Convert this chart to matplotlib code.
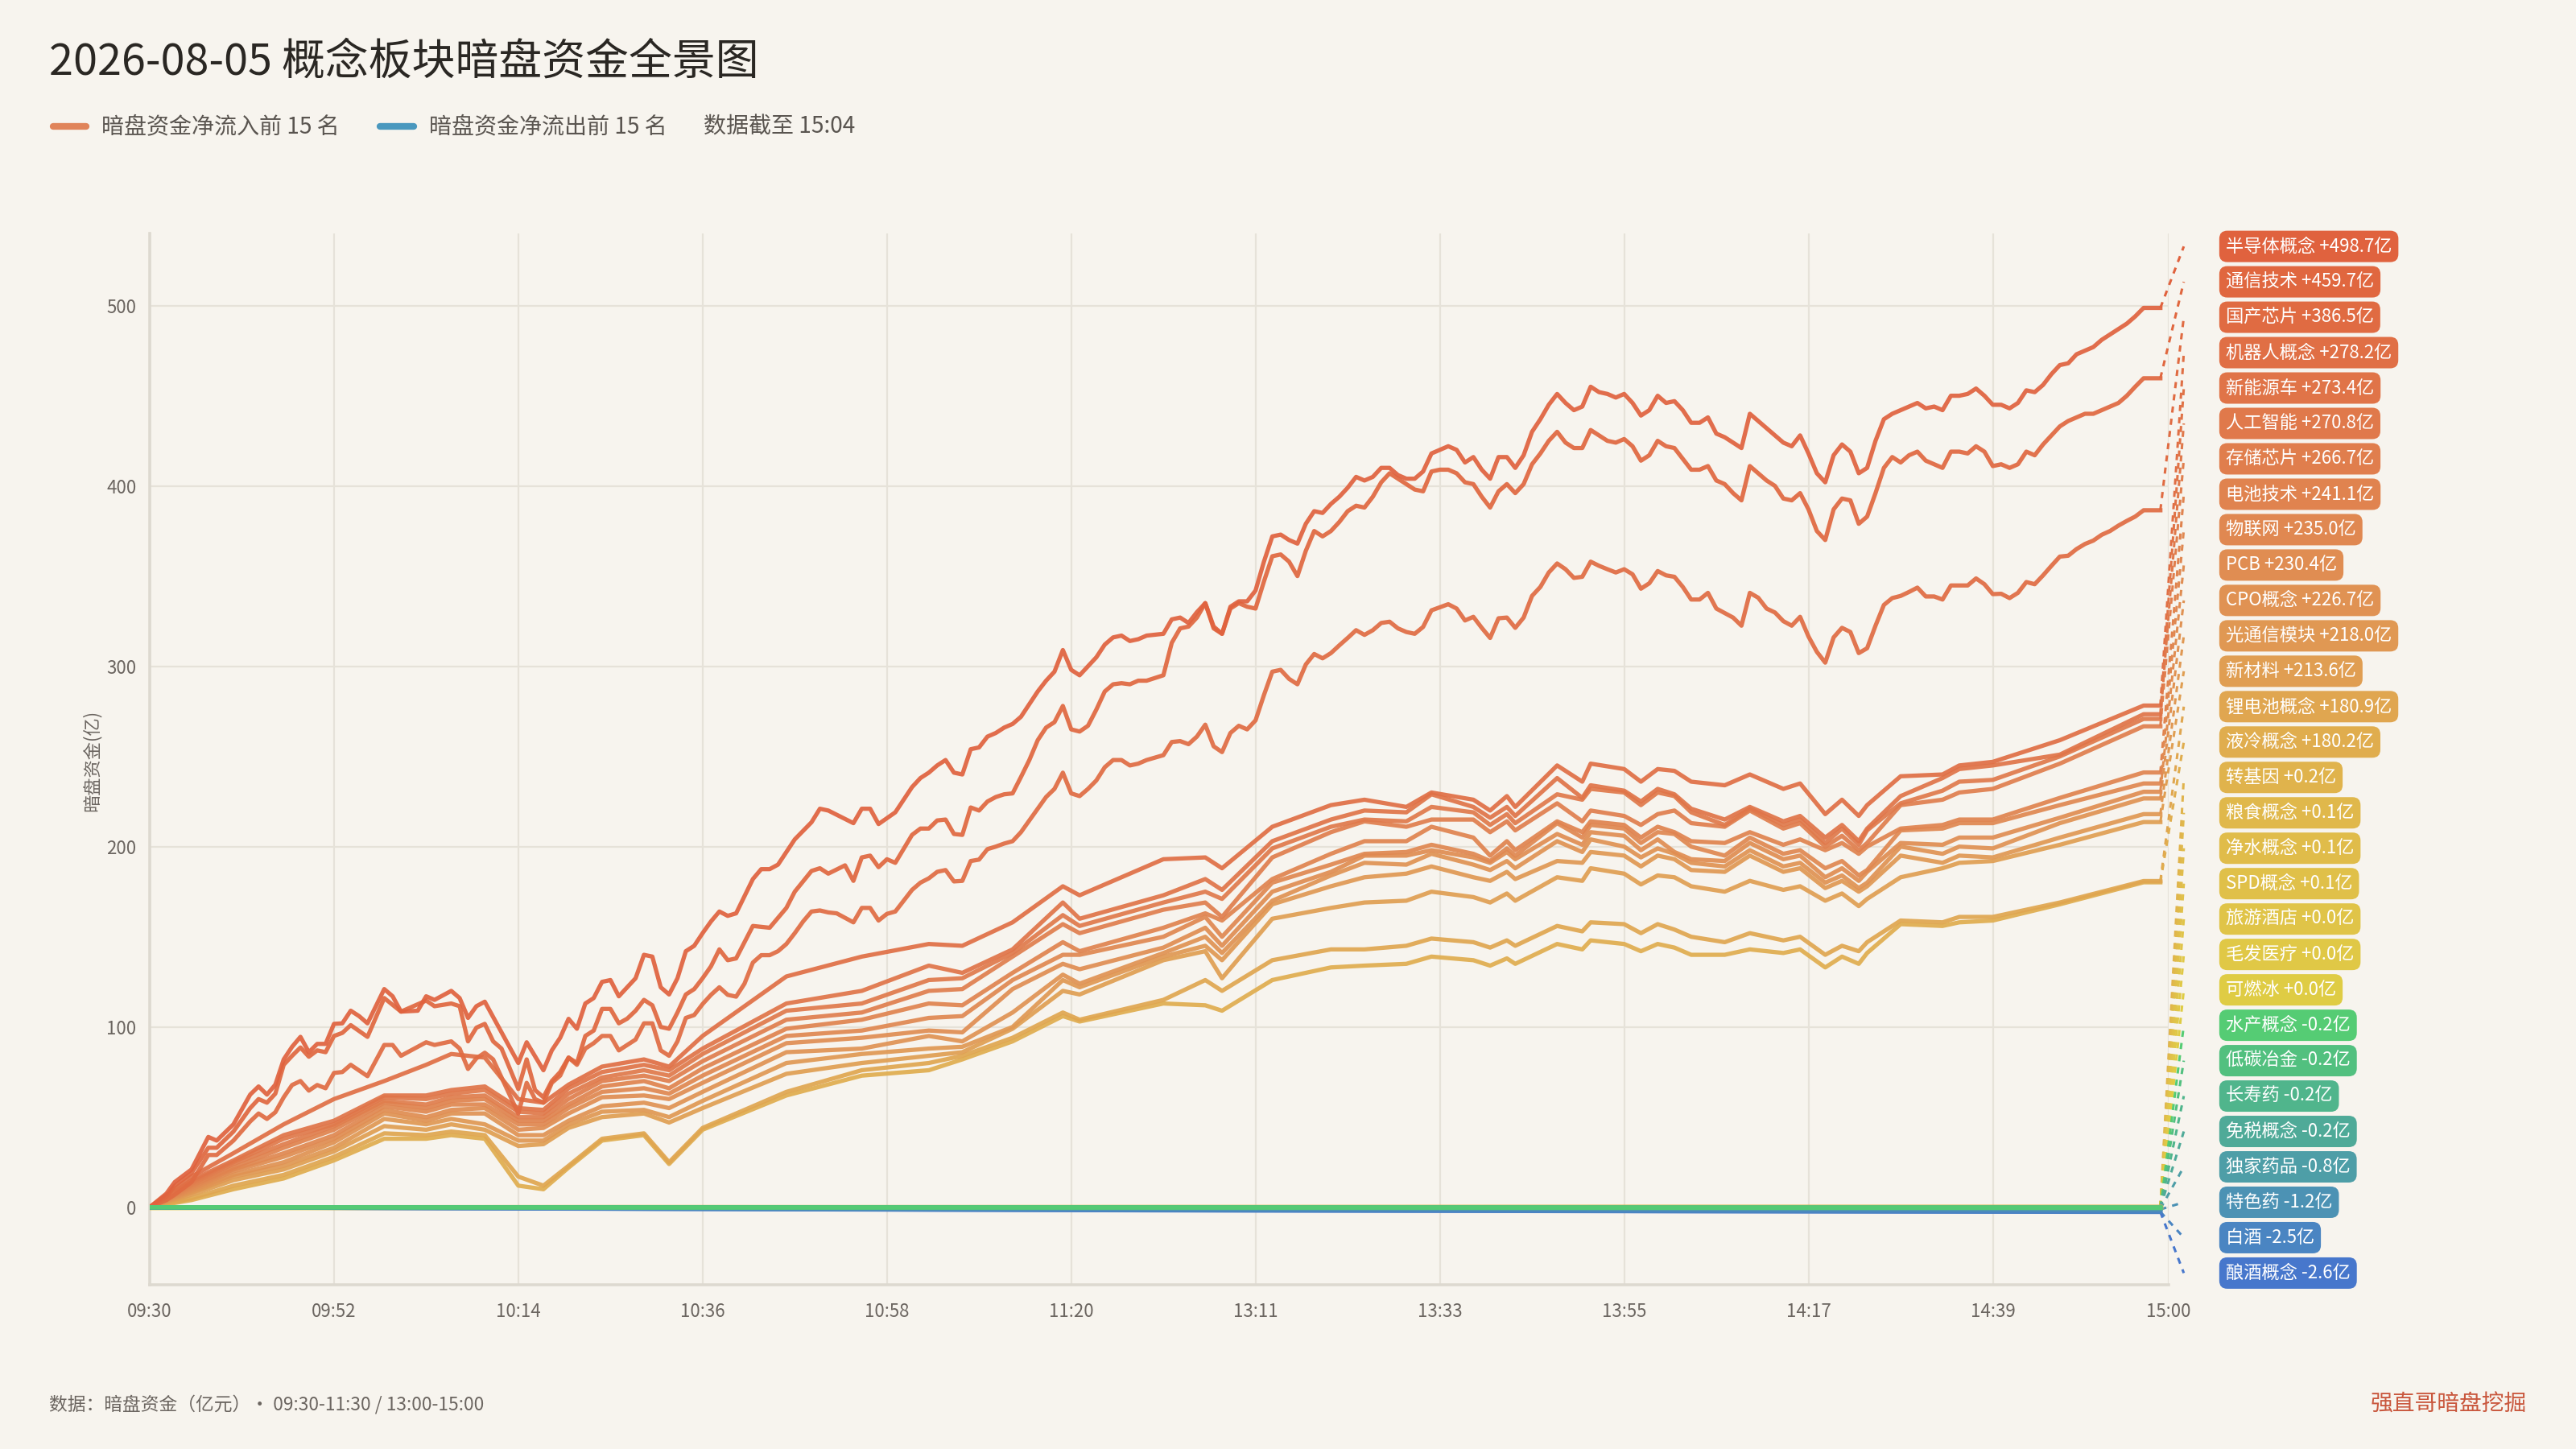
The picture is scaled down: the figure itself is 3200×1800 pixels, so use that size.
import matplotlib
matplotlib.use('Agg')
import matplotlib.pyplot as plt
from matplotlib.lines import Line2D

plt.rcParams['font.family'] = ['Noto Sans CJK SC', 'DejaVu Sans']

BG = '#F7F4EE'
GRID = '#E6E2D9'
TXT = '#6B6560'

# category axis: 09:30-11:30 then 13:00-15:00, one slot per minute
times = [f'{9 + (30 + m) // 60:02d}:{(30 + m) % 60:02d}' for m in range(121)] + \
        [f'{13 + m // 60:02d}:{m % 60:02d}' for m in range(121)]
tick_pos = [0, 22, 44, 66, 88, 110, 132, 154, 176, 198, 220, 241]

names = ['半导体概念', '通信技术', '国产芯片', '机器人概念', '新能源车', '人工智能', '存储芯片',
         '电池技术', '物联网', 'PCB', 'CPO概念', '光通信模块', '新材料', '锂电池概念', '液冷概念',
         '转基因', '粮食概念', '净水概念', 'SPD概念', '旅游酒店', '毛发医疗', '可燃冰',
         '水产概念', '低碳冶金', '长寿药', '免税概念', '独家药品', '特色药', '白酒', '酿酒概念']
finals = [498.7, 459.7, 386.5, 278.2, 273.4, 270.8, 266.7, 241.1, 235.0, 230.4, 226.7, 218.0,
          213.6, 180.9, 180.2, 0.2, 0.1, 0.1, 0.1, 0.0, 0.0, 0.0, -0.2, -0.2, -0.2, -0.2,
          -0.8, -1.2, -2.5, -2.6]
colors = ['#E0623E', '#E0673F', '#E06B42', '#E06F45', '#E07448', '#E0794B', '#E07E4D',
          '#E0834F', '#E08851', '#E08D52', '#E09253', '#E09853', '#E09E52', '#E0A650',
          '#E0AD4E', '#E0B34C', '#E0B84B', '#E0BC4A', '#E0C049', '#E0C448', '#E0C846',
          '#DFCC44', '#55CC74', '#52C07F', '#50B58C', '#4FAA98', '#4E9EA7', '#4C92B4',
          '#4A85C2', '#4777CC']

# ---- top three, read minute by minute where visible ----
mid_range = list(range(91, 120))
pm_range = list(range(121, 241))

a_idx_am = [0, 2, 3, 5, 7, 8, 10, 12, 13, 14, 15, 16, 17, 18, 19, 20, 21, 22, 23, 24, 25, 26,
            28, 29, 30, 32, 33, 34, 36, 37, 38, 39, 40, 44, 45, 47, 48, 49, 50, 51, 52, 53, 54,
            55, 56, 58, 59, 60, 61, 62, 63, 64, 65, 66, 67, 68, 69, 70, 72, 73, 74, 75, 77, 79,
            80, 81, 84, 85, 86, 87, 89]
a_am = [0, 7.6, 14, 21, 39, 37, 46, 62.5, 67, 62.5, 68, 82, 89, 94.5, 86, 90.6, 90.6, 101.7,
        102, 109, 106, 102, 121, 117, 108.5, 109, 117, 115, 120, 116, 105, 111.5, 114, 80,
        91.5, 76, 87, 94, 104.5, 99, 113, 116, 125, 126, 117, 127, 140, 139, 122, 118, 127,
        142, 145, 152, 158.5, 164, 161.6, 163, 182, 187.5, 187.5, 190, 204, 213.5, 221, 220,
        213, 221, 221, 212.5, 219]
a_mid = [233, 238, 241, 245, 248, 241, 240, 254, 255, 261,
         263, 266, 268, 272, 279, 286, 292, 297, 309, 298,
         295, 300, 305, 312, 316, 317, 314, 315, 317]
a_pm = [318, 326, 327, 324, 330, 335, 322, 318, 333, 336,
        336, 342, 358, 372, 373, 370, 368, 379, 386, 385,
        390, 394, 399, 405, 403, 405, 410, 410, 406, 404,
        404, 408, 418, 420, 422, 420, 413, 416, 409, 404,
        416, 416, 410, 417, 430, 437, 445, 451, 446, 442,
        444, 455, 452, 451, 449, 451, 446, 439, 442, 450,
        446, 447, 442, 435, 435, 438, 429, 427, 424, 421,
        440, 436, 432, 428, 424, 422, 428, 418, 407, 402,
        417, 423, 419, 407, 410, 425, 437, 440, 442, 444,
        446, 443, 444, 442, 450, 450, 451, 454, 450, 445,
        445, 443, 446, 453, 452, 456, 462, 467, 468, 473,
        475, 477, 481, 484, 487, 490, 494, 498.7, 498.7, 498.7]

b_idx_am = [0, 2, 3, 5, 7, 8, 10, 12, 13, 14, 15, 16, 17, 18, 19, 20, 21, 22, 23, 24, 26, 28,
            30, 33, 34, 36, 37, 38, 39, 40, 41, 42, 44, 45, 46, 47, 48, 49, 50, 51, 52, 53, 54,
            55, 56, 57, 58, 59, 60, 61, 62, 63, 64, 65, 66, 67, 68, 69, 70, 72, 74, 76, 77, 79,
            80, 81, 83, 84, 85, 86, 87, 88, 89]
b_am = [0, 6, 12, 19, 33, 33, 42, 55, 60, 58, 63, 79, 84, 88.6, 83.5, 87, 86, 95, 96.7, 101,
        94.5, 116, 108.5, 114.6, 111.5, 113, 111.5, 92, 99.6, 101.7, 92, 88, 65.6, 82, 65, 61,
        70, 75, 83, 80, 95, 98, 110, 110, 102, 104.6, 109, 115, 112, 100, 99, 108, 118, 121,
        127, 133.6, 143, 137, 138, 156, 155, 166, 175, 186.5, 188, 185, 189.6, 181, 194, 195,
        188.6, 193, 191]
b_mid = [206.5, 210, 210, 214.5, 215, 207, 206.5, 221.7, 220, 225,
         227.5, 229, 229.5, 238.6, 248, 259, 266, 269, 278, 265,
         263.8, 267, 276, 286, 290, 290.6, 290, 292, 292]
b_pm = [295, 313, 321, 322, 327, 335, 321, 318, 332, 335,
        333, 332, 347, 361, 362, 358, 350, 364, 375, 372,
        375, 380, 386, 389, 388, 394, 402, 407, 404, 401,
        398, 397, 408, 409, 409, 407, 402, 401, 394, 388,
        397, 401, 396, 401, 412, 418, 425, 430, 424, 421,
        421, 431, 428, 425, 424, 426, 422, 414, 417, 425,
        422, 421, 415, 409, 409, 411, 403, 401, 396, 392,
        411, 407, 403, 400, 393, 392, 396, 387, 375, 370,
        387, 393, 392, 379, 383, 396, 410, 416, 413, 417,
        419, 414, 412, 410, 419, 419, 418, 422, 419, 411,
        412, 410, 412, 419, 417, 423, 428, 433, 436, 438,
        440, 440, 442, 444, 446, 450, 455, 459.7, 459.7, 459.7]

c_idx_am = [0, 2, 3, 5, 7, 8, 10, 12, 13, 14, 15, 16, 17, 18, 19, 20, 21, 22, 23, 24, 26, 28,
            29, 30, 33, 34, 36, 37, 38, 39, 40, 41, 44, 45, 46, 47, 48, 49, 50, 51, 52, 53, 54,
            55, 56, 58, 59, 60, 61, 62, 63, 64, 65, 66, 67, 68, 69, 70, 71, 72, 73, 74, 75, 76,
            77, 78, 79, 80, 81, 82, 84, 85, 86, 87, 88, 89]
c_am = [0, 4, 7, 14, 29, 29, 37, 47.6, 52, 49, 52.7, 61, 67.8, 70, 64.7, 67.8, 66, 74.5, 75,
        79, 72.7, 90, 90, 84, 91.5, 90, 92, 88, 76.7, 82.6, 85.7, 82, 52, 69, 60, 58, 69, 73,
        83, 79, 88, 91, 95, 95, 87, 93, 102, 102, 87, 84, 92, 105, 106.6, 112.7, 117.8, 122,
        117.8, 116.8, 124, 135.7, 139.8, 139.8, 142, 146, 152, 158.5, 164, 164.6, 163.5, 163,
        158, 166, 166, 159, 162.7, 164]
c_mid = [176, 180, 182.4, 186, 187, 180.7, 181, 192, 192.8, 198.6,
         200, 201.7, 203, 208, 214.5, 221, 227.5, 232, 241, 229.5,
         228, 232, 236.7, 244, 248, 248, 245, 246, 248]
c_pm = [250.7, 258, 258.5, 256.8, 261, 267.6, 255.6, 252.4, 263, 267,
        265, 270, 284, 297, 298, 293, 290, 301, 306.8, 304.4,
        307.3, 311.6, 315.7, 320, 317.4, 320, 324, 324.7, 321, 319,
        318, 321.8, 331, 332.7, 334.4, 332, 325.4, 327.4, 321.3, 315.7,
        326.6, 327, 321.3, 327, 339, 344, 352, 357, 353.8, 349,
        349.6, 358, 355.7, 353.8, 352, 353.8, 351, 343, 346, 352.8,
        350.4, 349.6, 344, 337, 337, 340.7, 332, 329.5, 327, 322.5,
        340.7, 338, 332, 329.8, 325, 322.5, 327.4, 316.5, 308, 302,
        316, 321.3, 319, 307.3, 310, 322.5, 334, 337.8, 339, 341.2,
        343.6, 338.7, 338.7, 337, 344.8, 344.8, 344.8, 348.7, 345.5, 340,
        340.2, 337.8, 340.7, 346.7, 345.5, 350.4, 355.7, 360.8, 361.3, 365,
        367.8, 369.7, 372.9, 375, 378, 380.6, 383, 386.5, 386.5, 386.5]

# ---- ranks 4-15, read at coarser points ----
mid_idx = [0, 5, 10, 16, 22, 28, 33, 36, 40, 44,
           47, 50, 54, 59, 62, 66, 76, 85, 93, 97,
           103, 109, 111, 121, 126, 128, 134, 141, 145, 150,
           153, 158, 160, 162, 163, 168, 171, 172, 176, 178,
           180, 182, 184, 188, 191, 195, 197, 200, 202, 204,
           205, 209, 214, 216, 220, 228, 238, 240]
jqr = [0, 17, 30, 46, 60, 70, 79, 85, 83, 60,
       58, 68, 78, 82, 78, 95, 128, 139, 146, 145,
       158, 178, 173, 193, 194, 188, 211, 223, 226, 222,
       230, 226, 220, 228, 222, 245, 236, 246, 243, 236,
       243, 242, 236, 234, 240, 232, 235, 218, 226, 217,
       223, 239, 240, 245, 247, 259, 278.2, 278.2]
xny = [0, 15, 26, 40, 48, 62, 62, 65, 67, 55,
       54, 66, 75, 79, 76, 88, 113, 120, 134, 130,
       143, 169, 160, 173, 182, 176, 203, 215, 220, 219,
       229, 222, 216, 222, 217, 238, 227, 234, 231, 225,
       232, 229, 221, 215, 222, 214, 217, 205, 212, 203,
       210, 228, 238, 243, 245, 251, 273.4, 273.4]
rgzn = [0, 14, 25, 38, 46, 61, 60, 63, 65, 53,
        52, 63, 72, 76, 73, 85, 109, 113, 126, 127,
        141, 162, 156, 169, 175, 171, 199, 211, 215, 214,
        222, 219, 212, 218, 213, 229, 226, 232, 230, 223,
        230, 228, 219, 212, 221, 212, 215, 202, 210, 201,
        209, 224, 231, 236, 237, 250, 270.8, 270.8]
cc = [0, 13, 24, 35, 45, 59, 57, 61, 62, 50,
      50, 60, 70, 73, 70, 81, 104, 108, 120, 121,
      139, 157, 152, 165, 169, 161, 194, 208, 214, 211,
      215, 215, 208, 214, 209, 224, 214, 220, 217, 212,
      218, 220, 213, 211, 220, 210, 213, 200, 206, 198,
      202, 223, 226, 230, 232, 246, 266.7, 266.7]
dc = [0, 12, 22, 33, 43, 58, 55, 59, 60, 48,
      48, 57, 67, 70, 66, 77, 99, 104, 113, 112,
      130, 147, 142, 155, 163, 159, 182, 196, 203, 203,
      211, 205, 195, 203, 198, 214, 208, 214, 212, 205,
      211, 208, 203, 202, 208, 201, 204, 198, 202, 196,
      200, 210, 212, 215, 215, 227, 241.1, 241.1]
wlw = [0, 11, 21, 30, 40, 56, 53, 57, 57, 46,
       46, 55, 64, 66, 63, 73, 95, 98, 105, 106,
       126, 140, 140, 150, 161, 150, 180, 190, 196, 197,
       201, 196, 192, 199, 195, 213, 205, 212, 210, 202,
       208, 207, 200, 195, 205, 196, 198, 188, 192, 184,
       187, 209, 210, 213, 213, 223, 235.0, 235.0]
pcb = [0, 10, 20, 28, 38, 54, 50, 54, 55, 43,
       44, 52, 61, 62, 60, 69, 91, 94, 98, 97,
       121, 135, 132, 144, 155, 145, 175, 186, 195, 195,
       198, 194, 191, 197, 193, 207, 201, 208, 206, 198,
       204, 197, 193, 192, 202, 193, 195, 183, 188, 181,
       186, 202, 201, 205, 205, 216, 230.4, 230.4]
cpo = [0, 9, 18, 25, 36, 52, 48, 52, 52, 40,
       40, 48, 56, 58, 55, 64, 86, 88, 95, 92,
       108, 129, 124, 141, 150, 141, 170, 184, 191, 190,
       196, 190, 187, 192, 188, 203, 197, 204, 200, 194,
       199, 196, 191, 189, 198, 189, 191, 180, 184, 177,
       180, 200, 196, 200, 199, 213, 226.7, 226.7]
gtx = [0, 8, 17, 23, 33, 49, 46, 49, 46, 37,
       37, 46, 53, 54, 50, 59, 80, 85, 88, 89,
       100, 126, 122, 139, 145, 137, 168, 178, 183, 185,
       189, 183, 181, 186, 182, 192, 191, 197, 195, 189,
       195, 193, 187, 186, 195, 186, 188, 177, 181, 175,
       178, 195, 191, 195, 194, 205, 218.0, 218.0]
xcl = [0, 7, 15, 21, 31, 45, 43, 46, 43, 34,
       35, 44, 50, 52, 47, 55, 74, 80, 84, 86,
       99, 120, 118, 137, 142, 127, 160, 166, 169, 170,
       175, 172, 169, 174, 170, 183, 181, 188, 185, 179,
       184, 183, 178, 175, 181, 176, 178, 170, 174, 167,
       171, 183, 188, 191, 192, 201, 213.6, 213.6]
ldc = [0, 5, 12, 18, 28, 41, 40, 42, 40, 17,
       12, 23, 38, 41, 25, 44, 64, 76, 80, 84,
       94, 108, 104, 115, 126, 120, 137, 143, 143, 145,
       149, 147, 144, 148, 145, 156, 153, 158, 157, 152,
       157, 154, 150, 147, 152, 148, 150, 140, 145, 142,
       147, 159, 158, 161, 161, 169, 180.9, 180.9]
ylq = [0, 4, 10, 16, 26, 38, 38, 40, 38, 12,
       10, 22, 37, 40, 24, 43, 62, 73, 76, 82,
       92, 106, 103, 113, 112, 109, 126, 133, 134, 135,
       139, 137, 134, 138, 135, 146, 143, 148, 146, 142,
       146, 144, 140, 140, 143, 141, 143, 133, 139, 135,
       141, 157, 156, 158, 159, 168, 180.2, 180.2]

# ---- ranks 16-30, hugging zero ----
bot_idx = [0, 60, 120, 180, 240]
zjy = [0, 0.1, 0.1, 0.2, 0.2]
lsgn = [0, 0.0, 0.1, 0.1, 0.1]
jsgn = [0, 0.1, 0.0, 0.1, 0.1]
spd = [0, 0.0, 0.1, 0.1, 0.1]
lyjd = [0, 0.0, 0.0, 0.0, 0.0]
mfyl = [0, 0.0, 0.0, 0.0, 0.0]
krb = [0, 0.0, 0.0, 0.0, 0.0]
scgn = [0, -0.1, -0.1, -0.2, -0.2]
dtyj = [0, -0.1, -0.2, -0.2, -0.2]
csy = [0, -0.1, -0.1, -0.2, -0.2]
msgn = [0, 0.0, -0.1, -0.2, -0.2]
djyp = [0, -0.3, -0.5, -0.7, -0.8]
tsy = [0, -0.4, -0.8, -1.0, -1.2]
bj = [0, -0.8, -1.6, -2.1, -2.5]
njgn = [0, -0.9, -1.7, -2.2, -2.6]

series_x = [a_idx_am + mid_range + pm_range,
            b_idx_am + mid_range + pm_range,
            c_idx_am + mid_range + pm_range] + [mid_idx] * 12 + [bot_idx] * 15
series_y = [a_am + a_mid + a_pm, b_am + b_mid + b_pm, c_am + c_mid + c_pm,
            jqr, xny, rgzn, cc, dc, wlw, pcb, cpo, gtx, xcl, ldc, ylq,
            zjy, lsgn, jsgn, spd, lyjd, mfyl, krb, scgn, dtyj, csy, msgn, djyp, tsy, bj, njgn]

fig = plt.figure(figsize=(16, 9), dpi=200)
fig.patch.set_facecolor(BG)
ax = fig.add_axes([0.0581, 0.1133, 0.7838, 0.7256])
ax.set_facecolor(BG)

n = len(names)
for i in range(n):
    if i < 15:
        z = 3 + (n - i) / 100          # stronger inflows on top
    elif i < 22:
        z = 3.0 + i / 1000             # flat yellow ones under the greens
    else:
        z = 3.5 - (i - 22) / 100       # greens above the blues
    ax.plot(series_x[i], series_y[i], color=colors[i], lw=1.9, alpha=0.92,
            solid_joinstyle='round', zorder=z)

# labels on the right with dashed leaders
label_top, label_step = 532.8, 19.63
for i in range(n):
    ly = label_top - i * label_step
    ax.plot([240, 242.8], [finals[i], ly], ls=(0, (2.5, 2.5)), lw=1.1, color=colors[i],
            clip_on=False, zorder=2)
    sign = '+' if finals[i] >= 0 else ''
    ax.text(247.8, ly, f'{names[i]} {sign}{finals[i]:.1f}亿', fontsize=8.0, color='white',
            ha='left', va='center', clip_on=False,
            bbox=dict(boxstyle='round,pad=0.36,rounding_size=0.45', fc=colors[i], ec='none'))

ax.set_xlim(0, 241)
ax.set_ylim(-43, 540)
ax.set_xticks(tick_pos)
ax.set_xticklabels([times[i] for i in tick_pos])
ax.set_yticks([0, 100, 200, 300, 400, 500])
ax.tick_params(length=0, labelsize=8, colors=TXT)
ax.tick_params(axis='x', pad=8)
ax.tick_params(axis='y', pad=6)
ax.grid(color=GRID, lw=0.8)
ax.set_axisbelow(True)
for s in ['top', 'right']:
    ax.spines[s].set_visible(False)
for s in ['left', 'bottom']:
    ax.spines[s].set_color('#DDD9D0')
    ax.spines[s].set_linewidth(1.3)

fig.text(0.0355, 0.475, '暗盘资金(亿)', rotation=90, fontsize=8, color=TXT,
         ha='center', va='center')

# title and legend row
fig.text(0.019, 0.957, '2026-08-05 概念板块暗盘资金全景图', fontsize=19.4, color='#2A2723',
         ha='left', va='center')
fig.add_artist(Line2D([0.0205, 0.0335], [0.9127, 0.9127], transform=fig.transFigure,
                      color='#E0845A', lw=3, solid_capstyle='round'))
fig.text(0.0395, 0.9127, '暗盘资金净流入前 15 名', fontsize=10.1, color='#5A5550', va='center')
fig.add_artist(Line2D([0.1475, 0.1605], [0.9127, 0.9127], transform=fig.transFigure,
                      color='#4A98BE', lw=3, solid_capstyle='round'))
fig.text(0.1665, 0.9127, '暗盘资金净流出前 15 名', fontsize=10.1, color='#5A5550', va='center')
fig.text(0.273, 0.9127, '数据截至 15:04', fontsize=10.1, color='#5A5550', va='center')

fig.text(0.019, 0.0306, '数据：暗盘资金（亿元）· 09:30-11:30 / 13:00-15:00', fontsize=8.2,
         color=TXT, va='center')
fig.text(0.981, 0.0306, '强直哥暗盘挖掘', fontsize=10, color='#C9573D', ha='right', va='center')

fig.savefig('out.png', dpi=200, facecolor=BG)
